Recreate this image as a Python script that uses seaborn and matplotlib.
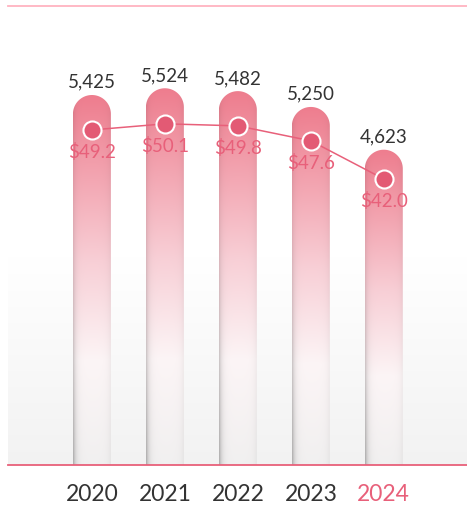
import numpy as np
import pandas as pd
import matplotlib
matplotlib.use('Agg')
import matplotlib.pyplot as plt
from matplotlib.path import Path
from matplotlib.patches import PathPatch
import seaborn as sns

sns.set_style("white")
plt.rcParams['font.family'] = ['Lato', 'DejaVu Sans']

years = ["2020", "2021", "2022", "2023", "2024"]
units = [5425, 5524, 5482, 5250, 4623]
prices = [49.2, 50.1, 49.8, 47.6, 42.0]

df = pd.DataFrame({"year": years, "units": units, "price": prices})

W, H = 4.67, 5.08
fig = plt.figure(figsize=(W, H), dpi=100)
ax_pos = [8 / 467, 1 - 465 / 508, 1 - 8 / 467, (465 - 6) / 508]
ax = fig.add_axes(ax_pos)

xlim = (-1.15, 5.14)
ylim = (0, 6730)

sns.barplot(data=df, x="year", y="units", ax=ax, width=0.52, color="#f08a9a")
ax.set_xlim(*xlim)
ax.set_ylim(*ylim)

# background gradient (white -> light grey at bottom)
bg = np.ones((200, 2, 3))
t = np.linspace(0, 1, 200)[:, None]
g = np.clip((t - 0.55) / 0.45, 0, 1) * 0.05
bg = bg - g[:, :, None]
ax.imshow(bg, extent=[xlim[0], xlim[1], ylim[0], ylim[1]], aspect='auto', zorder=0)

# data units per pixel
ax_w_px = ax_pos[2] * W * 100
ax_h_px = ax_pos[3] * H * 100
ux = (xlim[1] - xlim[0]) / ax_w_px
uy = (ylim[1] - ylim[0]) / ax_h_px

stops = [0.0, 0.45, 0.72, 1.0]
cols = np.array([[238, 125, 142], [248, 207, 214], [252, 245, 246], [241, 240, 240]]) / 255

for p in ax.patches:
    x0, w, h = p.get_x(), p.get_width(), p.get_height()
    p.set_visible(False)
    x1 = x0 + w
    rx = w / 2
    ry = rx / ux * uy
    th = np.linspace(np.pi, 0, 40)
    verts = [(x0, 0), (x0, h - ry)]
    verts += [(x0 + rx + rx * np.cos(a), h - ry + ry * np.sin(a)) for a in th]
    verts += [(x1, 0), (x0, 0)]
    codes = [Path.MOVETO] + [Path.LINETO] * (len(verts) - 2) + [Path.CLOSEPOLY]
    clip = PathPatch(Path(verts, codes), facecolor='none', edgecolor='none')
    ax.add_patch(clip)

    ny, nx = 300, 60
    tv = np.linspace(0, 1, ny)
    col = np.stack([np.interp(tv, stops, cols[:, k]) for k in range(3)], axis=1)
    xs = np.linspace(0, 1, nx)
    depth = np.clip((tv - 0.3) / 0.7, 0, 1)[:, None]
    shade = 1 - (0.08 + 0.2 * depth) * np.exp(-xs[None, :] / 0.07) \
        - 0.05 * np.exp(-(1 - xs[None, :]) / 0.08)
    img = col[:, None, :] * shade[:, :, None]
    img = np.clip(img, 0, 1)
    im = ax.imshow(img, extent=[x0, x1, 0, h], aspect='auto', zorder=2)
    im.set_clip_path(clip)

for i, v in enumerate(units):
    ax.annotate(f"{v:,}", (i, v), xytext=(0, 3), textcoords="offset points",
                ha="center", va="bottom", fontsize=13.5, color="#333333", zorder=5)

ax.set_xlim(*xlim)
ax.set_ylim(*ylim)
ax.set_xlabel("")
ax.set_ylabel("")
ax.set_yticks([])
ax.tick_params(axis='x', length=0, pad=14, labelsize=16.5, labelcolor="#333333")
ax.get_xticklabels()[-1].set_color("#e8607a")
for s in ["left", "right"]:
    ax.spines[s].set_visible(False)
ax.spines["top"].set_color("#ffb3c0")
ax.spines["top"].set_linewidth(1.3)
ax.spines["bottom"].set_color("#e8607a")
ax.spines["bottom"].set_linewidth(1.3)

ax2 = ax.twinx()
sns.lineplot(x=np.arange(len(prices)), y=prices, ax=ax2, color="#e8607a", lw=1.1,
             marker="o", zorder=6)
ln = ax2.lines[0]
ln.set_markersize(13)
ln.set_markerfacecolor("#e35a74")
ln.set_markeredgecolor("white")
ln.set_markeredgewidth(1.5)
for i, v in enumerate(prices):
    ax2.annotate(f"${v:.1f}", (i, v), xytext=(0, -16), textcoords="offset points",
                 ha="center", va="center", fontsize=13.5, color="#e8607a", zorder=7)
ax2.set_ylim(0, 67.4)
ax2.set_xlim(*xlim)
ax2.set_yticks([])
ax2.set_ylabel("")
for s in ax2.spines.values():
    s.set_visible(False)

fig.savefig("out.png", dpi=100)
